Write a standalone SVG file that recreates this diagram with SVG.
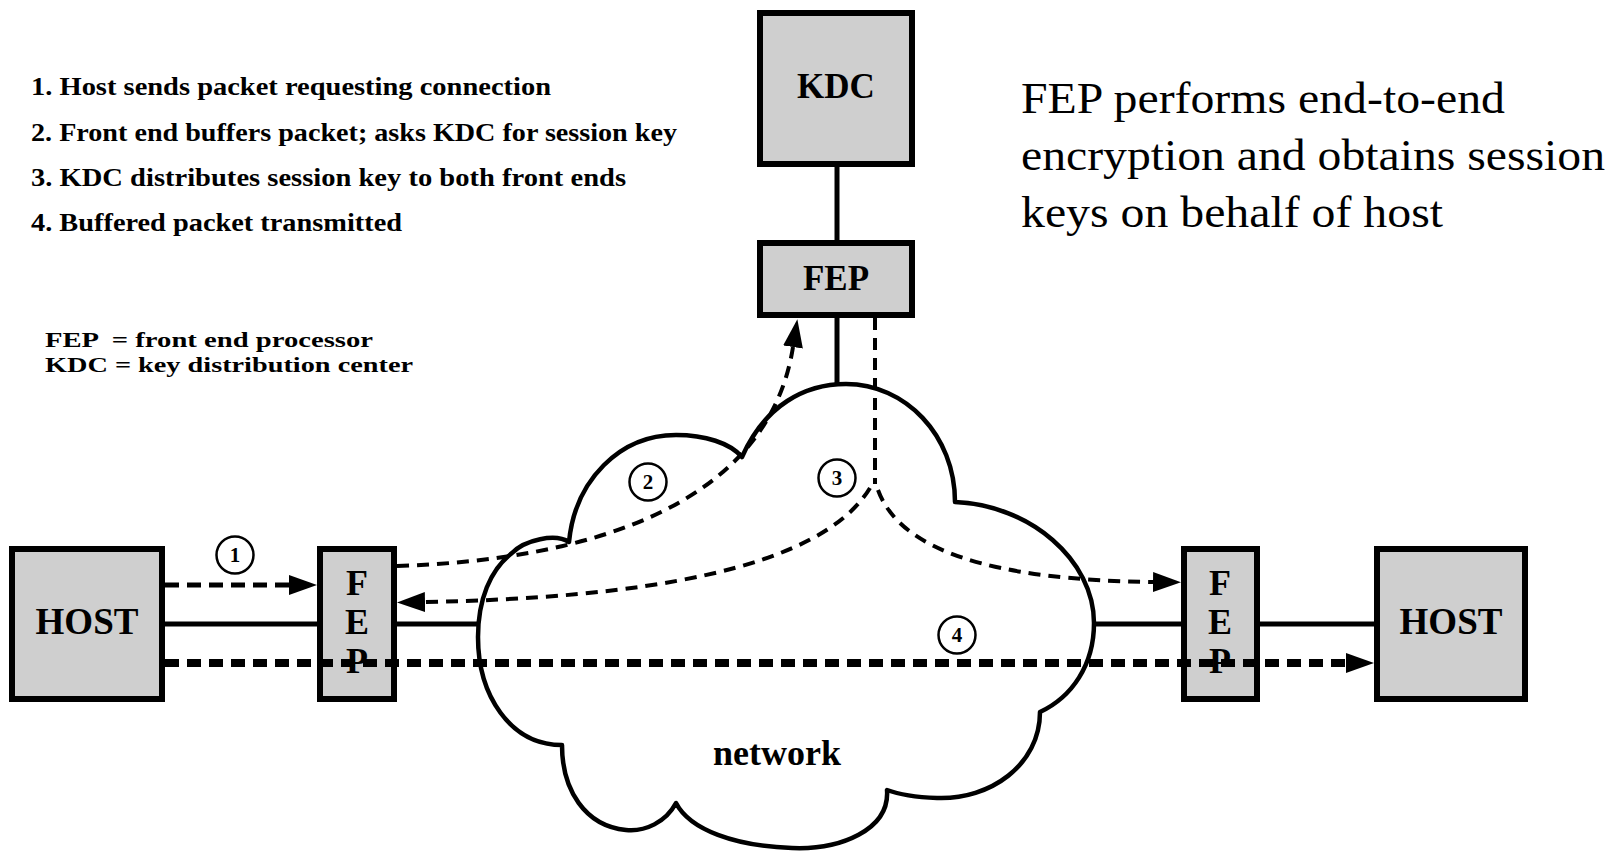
<svg xmlns="http://www.w3.org/2000/svg" width="1619" height="851" viewBox="0 0 1619 851">
<style>
  .box { fill: #cfcfcf; stroke: #000; stroke-width: 6; }
  .lbl { font-family: "Liberation Serif", "Times New Roman", serif; font-weight: bold; fill: #000; }
  .note { font-family: "Liberation Serif", "Times New Roman", serif; font-weight: bold; font-size: 25px; fill: #000; white-space: pre; }
  .legend { font-family: "Liberation Serif", "Times New Roman", serif; font-weight: bold; font-size: 22px; fill: #000; white-space: pre; }
  .big { font-family: "Liberation Serif", "Times New Roman", serif; font-size: 45px; fill: #000; }
  .solid { stroke: #000; stroke-width: 5; fill: none; }
  .dash1 { stroke: #000; stroke-width: 5; fill: none; stroke-dasharray: 14 8; }
  .dash2 { stroke: #000; stroke-width: 4; fill: none; stroke-dasharray: 12 8; }
  .dash4 { stroke: #000; stroke-width: 8; fill: none; stroke-dasharray: 14 8; }
  .num { fill: #fff; stroke: #000; stroke-width: 2.5; }
  .numt { font-family: "Liberation Serif", "Times New Roman", serif; font-weight: bold; font-size: 21px; fill: #000; }
</style>
<defs>
  <marker id="ah" viewBox="0 0 28 20" refX="0" refY="10" markerWidth="28" markerHeight="20" markerUnits="userSpaceOnUse" orient="auto">
    <path d="M0,0 L28,10 L0,20 Z" fill="#000"/>
  </marker>
</defs>
<rect x="0" y="0" width="1619" height="851" fill="#fff"/>

<g id="notes">
  <text class="note" x="31" y="95" textLength="520" lengthAdjust="spacingAndGlyphs">1. Host sends packet requesting connection</text>
  <text class="note" x="31" y="141" textLength="646" lengthAdjust="spacingAndGlyphs">2. Front end buffers packet; asks KDC for session key</text>
  <text class="note" x="31" y="186" textLength="595" lengthAdjust="spacingAndGlyphs">3. KDC distributes session key to both front ends</text>
  <text class="note" x="31" y="231" textLength="371" lengthAdjust="spacingAndGlyphs">4. Buffered packet transmitted</text>
  <text class="legend" x="45" y="347" textLength="328" lengthAdjust="spacingAndGlyphs">FEP  = front end processor</text>
  <text class="legend" x="45" y="372" textLength="368" lengthAdjust="spacingAndGlyphs">KDC = key distribution center</text>
</g>

<g id="caption">
  <text class="big" x="1021" y="113" textLength="484" lengthAdjust="spacingAndGlyphs">FEP performs end-to-end</text>
  <text class="big" x="1021" y="170" textLength="584" lengthAdjust="spacingAndGlyphs">encryption and obtains session</text>
  <text class="big" x="1021" y="227" textLength="422" lengthAdjust="spacingAndGlyphs">keys on behalf of host</text>
</g>

<g id="network">
  <path d="M 742 457 C 765 405, 805 384, 846 384 C 905 384, 955 435, 955 502 C 1030 505, 1094 560, 1094 623 C 1094 665, 1072 697, 1040 712 C 1040 765, 990 800, 937 798 C 912 797, 895 793, 887 790 C 890 830, 840 850, 792 848 C 735 846, 690 830, 676 803 C 666 822, 645 832, 626 830 C 585 826, 562 790, 562 745 C 510 745, 478 695, 478 637 C 478 600, 490 570, 512 553 C 525 540, 555 533, 569 542 C 575 480, 620 435, 676 435 C 705 435, 730 443, 742 457 Z" fill="#fff" stroke="#000" stroke-width="4.5" stroke-linejoin="round"/>
  <text class="lbl" x="777" y="765" font-size="36" text-anchor="middle">network</text>
</g>

<g id="kdc">
  <rect class="box" x="760" y="13" width="152" height="151"/>
  <text class="lbl" x="836" y="98" font-size="35" text-anchor="middle">KDC</text>
</g>

<g id="fep-top">
  <rect class="box" x="760" y="243" width="152" height="72"/>
  <text class="lbl" x="836" y="290" font-size="35" text-anchor="middle">FEP</text>
</g>

<g id="host-left">
  <rect class="box" x="12" y="549" width="150" height="150"/>
  <text class="lbl" x="87" y="634" font-size="37" text-anchor="middle">HOST</text>
</g>

<g id="fep-left">
  <rect class="box" x="320" y="549" width="74" height="150"/>
  <text class="lbl" x="357" y="595" font-size="36" text-anchor="middle">F</text>
  <text class="lbl" x="357" y="634" font-size="36" text-anchor="middle">E</text>
  <text class="lbl" x="357" y="673" font-size="36" text-anchor="middle">P</text>
</g>

<g id="fep-right">
  <rect class="box" x="1184" y="549" width="73" height="150"/>
  <text class="lbl" x="1220" y="595" font-size="36" text-anchor="middle">F</text>
  <text class="lbl" x="1220" y="634" font-size="36" text-anchor="middle">E</text>
  <text class="lbl" x="1220" y="673" font-size="36" text-anchor="middle">P</text>
</g>

<g id="host-right">
  <rect class="box" x="1377" y="549" width="148" height="150"/>
  <text class="lbl" x="1451" y="634" font-size="37" text-anchor="middle">HOST</text>
</g>

<g id="connectors">
  <line class="solid" x1="165" y1="624" x2="317" y2="624"/>
  <line class="solid" x1="397" y1="624" x2="478" y2="624"/>
  <line class="solid" x1="1093" y1="624" x2="1181" y2="624"/>
  <line class="solid" x1="1260" y1="624" x2="1374" y2="624"/>
  <line class="solid" x1="837" y1="167" x2="837" y2="240"/>
  <line class="solid" x1="837" y1="318" x2="837" y2="386"/>

  <line class="dash1" x1="165" y1="585" x2="289" y2="585" marker-end="url(#ah)"/>
  <path class="dash2" d="M 397 566 C 590 560, 768 505, 793 347" marker-end="url(#ah)"/>
  <line class="dash2" x1="875" y1="318" x2="875" y2="484"/>
  <path class="dash2" d="M 870 488 C 820 570, 640 598, 425 602" marker-end="url(#ah)"/>
  <path class="dash2" d="M 878 490 C 900 550, 990 580, 1153 582" marker-end="url(#ah)"/>
  <line class="dash4" x1="165" y1="663" x2="1346" y2="663" marker-end="url(#ah)"/>

  <circle class="num" cx="235" cy="555" r="18.5"/>
  <text class="numt" x="235" y="562" text-anchor="middle">1</text>
  <circle class="num" cx="648" cy="482" r="18.5"/>
  <text class="numt" x="648" y="489" text-anchor="middle">2</text>
  <circle class="num" cx="837" cy="478" r="18.5"/>
  <text class="numt" x="837" y="485" text-anchor="middle">3</text>
  <circle class="num" cx="957" cy="635" r="18.5"/>
  <text class="numt" x="957" y="642" text-anchor="middle">4</text>
</g>
</svg>
